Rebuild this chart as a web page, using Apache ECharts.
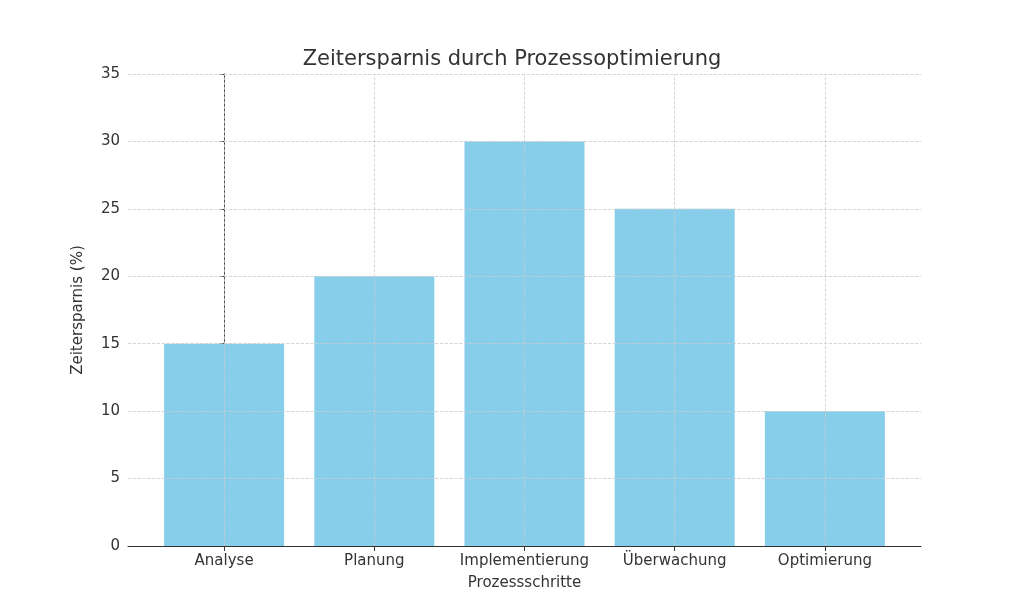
<!DOCTYPE html>
<html><head><meta charset="utf-8">
<script src="https://cdn.jsdelivr.net/npm/echarts@6/dist/echarts.min.js"></script>
<style>html,body{margin:0;background:#fff}#c{width:1024px;height:614px}</style>
</head><body><div id="c"></div>
<script>
const categories = ['Analyse','Planung','Implementierung','Überwachung','Optimierung'];
const values = [15,20,30,25,10];
const yTicks = [0,5,10,15,20,25,30,35];
const idx = categories.map((c,i)=>i);
const font = 'DejaVu Sans';
const grid = {type:'dashed', color:'#cccccc', width:0.8};
const chart = echarts.init(document.getElementById('c'));
chart.setOption({
  animation:false,
  textStyle:{fontFamily:font},
  title:{text:'Zeitersparnis durch Prozessoptimierung',left:'center',top:44,
    textStyle:{fontFamily:font,fontSize:21,fontWeight:'normal',color:'#333'}},
  grid:{left:128,right:103,top:74,bottom:68},
  xAxis:{type:'value',min:-0.64,max:4.64,
    name:'Prozessschritte',nameLocation:'middle',nameGap:30,
    nameTextStyle:{fontSize:15,color:'#333'},
    axisLine:{show:true,lineStyle:{color:'#333'}},
    axisTick:{show:true,customValues:idx,lineStyle:{color:'#333'}},
    axisLabel:{customValues:idx,fontSize:15,color:'#333',formatter:v=>categories[Math.round(v)]},
    splitLine:{show:false}},
  yAxis:{type:'value',min:0,max:35,interval:5,
    name:'Zeitersparnis (%)',nameLocation:'middle',nameGap:42,
    nameTextStyle:{fontSize:15,color:'#333'},
    axisLine:{show:true,lineStyle:{color:'#333'}},
    axisTick:{show:true,lineStyle:{color:'#333'}},
    axisLabel:{fontSize:15,color:'#333'},
    splitLine:{show:false}},
  series:[{type:'bar',data:values.map((v,i)=>[i,v]),barWidth:120,
    itemStyle:{color:'#87CEEB'},
    markLine:{silent:true,symbol:'none',label:{show:false},lineStyle:grid,z:10,
      data:[...idx.map(i=>({xAxis:i})),...yTicks.slice(1).map(t=>({yAxis:t}))]}}]
});
</script></body></html>
